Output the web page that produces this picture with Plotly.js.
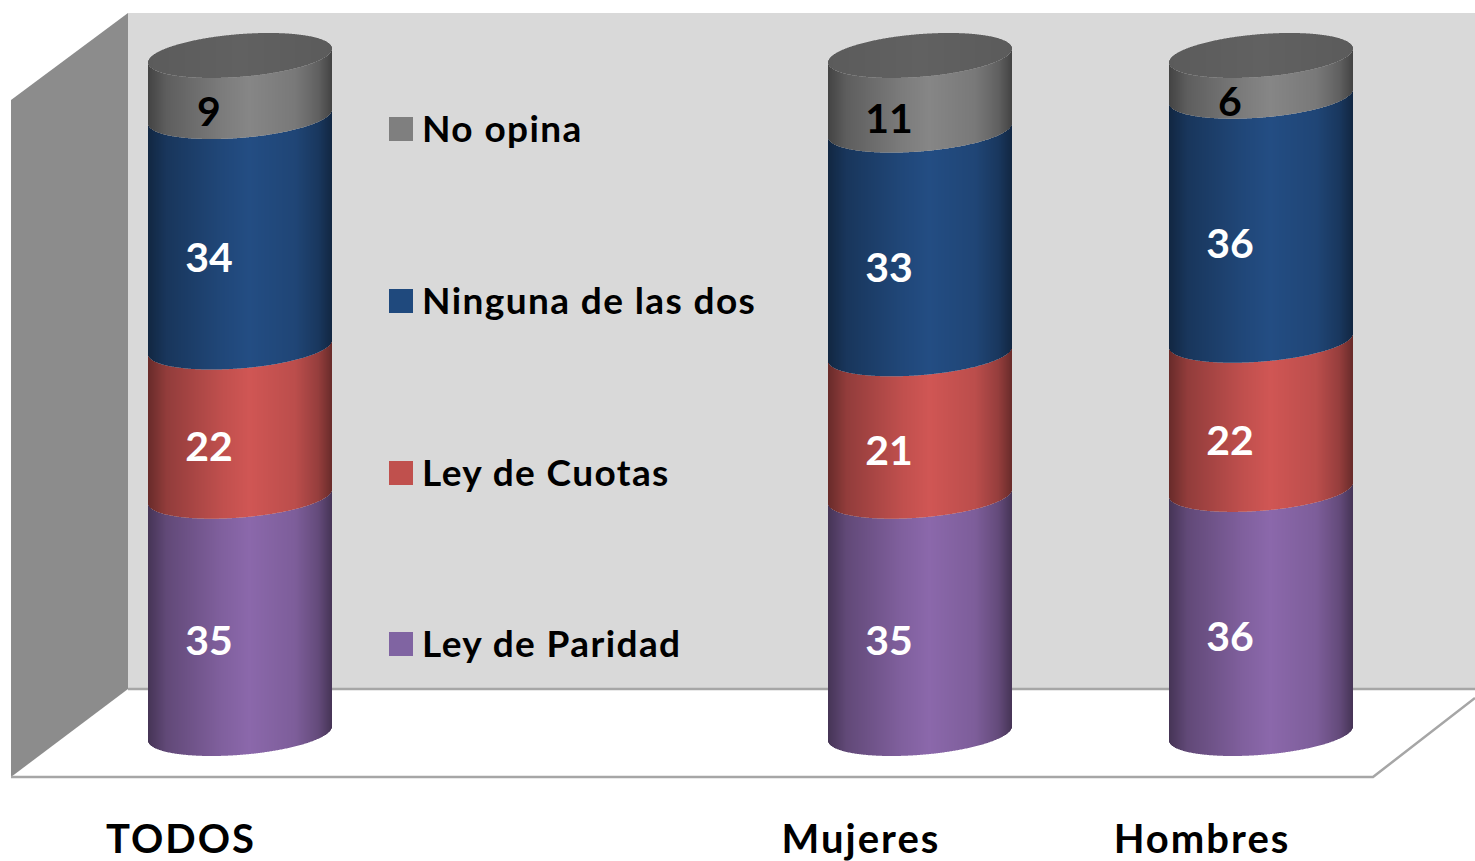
<!DOCTYPE html>
<html><head><meta charset="utf-8">
<script src="https://cdn.plot.ly/plotly-3.0.1.min.js"></script>
<style>html,body{margin:0;padding:0;background:#fff;overflow:hidden}#chart{width:1475px;height:861px}
.xtick text{letter-spacing:2px}
.scatterlayer .trace:last-child .textpoint text{letter-spacing:1.4px}
</style>
</head><body><div id="chart"></div>
<script>
// ---- data ----
const categories = ['TODOS', 'Mujeres', 'Hombres'];
const leyDeParidad = [35, 35, 36];
const leyDeCuotas  = [22, 21, 22];
const ningunaDeLasDos = [34, 33, 36];
const noOpina = [9, 11, 6];
const seriesNames = ['Ley de Paridad', 'Ley de Cuotas', 'Ninguna de las dos', 'No opina'];
const seriesValues = [leyDeParidad, leyDeCuotas, ningunaDeLasDos, noOpina];

// ---- styling and layout ----
const faceColors = [[139,104,171],[208,86,84],[35,77,131],[134,134,134]];
const swatchColors = ['#8064A2','#C0504D','#1F497D','#7F7F7F'];
const labelColors = ['#ffffff','#ffffff','#ffffff','#000000'];
const FONT = 'Lato, Carlito, sans-serif';
const W = 1475, H = 861, PLOT_B = 790, Y0 = 756, SCALE = 6.78;
const centers = [240, 920, 1261], A = 92, B = 21.4, K = -7, R = Math.hypot(B, K);
const labelDx = -31, tickDx = -59, labelDrop = 7 / SCALE;
const legendPx = [644, 473, 301, 129];

const yOfPx = p => (Y0 - p) / SCALE;
const shadeStops = [[-1,.5],[-.8,.7],[-.2,.92],[.1,1],[.6,.9],[.85,.72],[1,.5]];
function shade(u){
  for (let i = 1; i < shadeStops.length; i++) {
    if (u <= shadeStops[i][0]) {
      const [a,fa] = shadeStops[i-1], [b,fb] = shadeStops[i];
      return fa + (fb-fa)*(u-a)/(b-a);
    }
  }
  return .5;
}
const rgb = (c,f) => `rgb(${c.map(v=>Math.round(v*f)).join(',')})`;
// rise of the front rim of the cylinder above its lowest point, in value units
const frontRise = u => (R - K*u - B*Math.sqrt(1-u*u)) / SCALE;

const traces = seriesNames.map((name, s) => {
  const x=[], y=[], base=[], color=[];
  categories.forEach((cat, c) => {
    let cum = 0;
    for (let k = 0; k < s; k++) cum += seriesValues[k][c];
    for (let i = 0; i < 2*A; i++) {
      const u = (i + .5 - A) / A;
      x.push(centers[c]-A+i+.5);
      base.push(cum + frontRise(u));
      y.push(seriesValues[s][c]);
      color.push(rgb(faceColors[s], shade(u)));
    }
  });
  return {type:'bar', name, x, y, base, width:1, marker:{color, line:{width:0}}, hoverinfo:'skip', showlegend:false};
});

// top caps of the cylinders
const capX=[], capY=[], capBase=[], capColor=[];
categories.forEach((cat, c) => {
  const total = seriesValues.reduce((t, sv) => t + sv[c], 0);
  for (let i = 0; i < 2*A; i++) {
    const u = (i + .5 - A) / A;
    capX.push(centers[c]-A+i+.5);
    capBase.push(total + frontRise(u));
    capY.push(2*B*Math.sqrt(1-u*u)/SCALE);
    capColor.push(rgb([97,97,97], 1 - .06*Math.abs(u)));
  }
});
traces.push({type:'bar', name:'tapa', x:capX, y:capY, base:capBase, width:1,
  marker:{color:capColor, line:{width:0}}, hoverinfo:'skip', showlegend:false});

// value labels
const lx=[], ly=[], lt=[], lc=[];
seriesNames.forEach((name, s) => categories.forEach((cat, c) => {
  let cum = 0;
  for (let k = 0; k < s; k++) cum += seriesValues[k][c];
  lx.push(centers[c]+labelDx); ly.push(cum + seriesValues[s][c]/2 - labelDrop);
  lt.push(String(seriesValues[s][c])); lc.push(labelColors[s]);
}));
traces.push({type:'scatter', mode:'text', x:lx, y:ly, text:lt, cliponaxis:false,
  textfont:{family:FONT, size:41, weight:700, color:lc}, hoverinfo:'skip', showlegend:false});

// in-plot legend: swatches, then names
traces.push({type:'scatter', mode:'markers', x:[401,401,401,401], y:legendPx.map(yOfPx),
  cliponaxis:false, marker:{symbol:'square', size:24, color:swatchColors, line:{width:0}},
  hoverinfo:'skip', showlegend:false});
traces.push({type:'scatter', mode:'text', x:[422,422,422,422], y:legendPx.map(p=>yOfPx(p+4)),
  text:seriesNames, textposition:'middle right', cliponaxis:false,
  textfont:{family:FONT, size:37, weight:700, color:'#000'}, hoverinfo:'skip', showlegend:false});

const py = p => 1 - p / PLOT_B;
const poly = (pts, fill, line) => ({type:'path', xref:'x', yref:'paper', layer:'below',
  path: 'M' + pts.map(p => p[0] + ',' + py(p[1])).join('L') + (fill ? 'Z' : ''),
  fillcolor: fill || 'rgba(0,0,0,0)', line: line || {width:0}});
const edge = {color:'#a6a6a6', width:2.5};
const shapes = [
  poly([[128,13],[1475,13],[1475,689],[128,689]], '#d9d9d9'),
  poly([[11,100],[128,13],[128,689],[11,777]], '#8c8c8c'),
  poly([[128,689],[1475,689]], null, edge),
  poly([[11,777],[1373,777],[1475,698]], null, edge),
];

Plotly.newPlot('chart', traces, {
  width:W, height:H, margin:{l:0,r:0,t:0,b:H-PLOT_B,pad:0},
  paper_bgcolor:'#fff', plot_bgcolor:'rgba(0,0,0,0)', barmode:'overlay', showlegend:false,
  xaxis:{range:[0,W], tickmode:'array', tickvals:centers.map(c=>c+tickDx), ticktext:categories,
    ticks:'', ticklabelstandoff:22, showgrid:false, zeroline:false, showline:false,
    tickfont:{family:FONT, size:40, weight:700, color:'#000'}, fixedrange:true},
  yaxis:{range:[yOfPx(PLOT_B), yOfPx(0)], visible:false, showgrid:false, zeroline:false, fixedrange:true},
  shapes
}, {displayModeBar:false, staticPlot:true});
</script></body></html>
